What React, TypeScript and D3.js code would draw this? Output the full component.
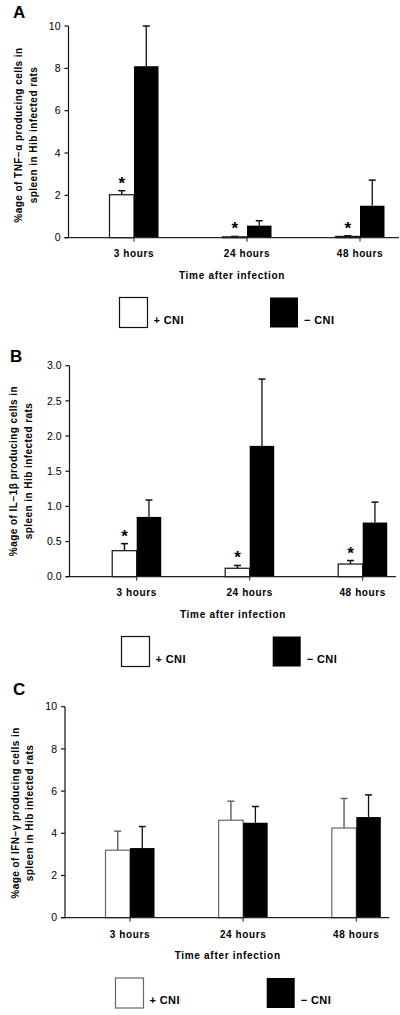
import React from "react";
import * as d3 from "d3";

const categories = ["3 hours", "24 hours", "48 hours"];

const tnfPlus = [2.03, 0.04, 0.06];
const tnfPlusErr = [2.22, 0.06, 0.09];
const tnfMinus = [8.1, 0.57, 1.51];
const tnfMinusErr = [10.0, 0.8, 2.72];

const il1Plus = [0.37, 0.12, 0.18];
const il1PlusErr = [0.47, 0.16, 0.23];
const il1Minus = [0.85, 1.86, 0.77];
const il1MinusErr = [1.09, 2.81, 1.06];

const ifnPlus = [3.2, 4.62, 4.25];
const ifnPlusErr = [4.1, 5.52, 5.65];
const ifnMinus = [3.3, 4.5, 4.77];
const ifnMinusErr = [4.32, 5.27, 5.82];

const sigA = [true, true, true];
const sigB = [true, true, true];
const sigC = [false, false, false];

const xTitle = "Time after infection";
const legendPlus = "+ CNI";
const legendMinus = "− CNI";

const FONT = "'Liberation Sans', Arial, Helvetica, sans-serif";

type PanelCfg = {
  letter: string;
  letterX: number;
  letterY: number;
  axisX: number;
  xEnd: number;
  yTop: number;
  yBottom: number;
  c0: number;
  c2: number;
  yMax: number;
  step: number;
  fmt: string;
  tickLabelY: number;
  titleX: number;
  titleY: number;
  ylab1: string;
  ylab2: string;
  ylabX1: number;
  ylabX2: number;
  ylabCY: number;
  legendY: number;
  legendX1: number;
  legendX2: number;
  plus: number[];
  plusErr: number[];
  minus: number[];
  minusErr: number[];
  sig: boolean[];
  plusStroke: string;
};

const BW = 24.5;

function Panel({ p }: { p: PanelCfg }) {
  const x = d3.scalePoint<string>().domain(categories).range([p.c0, p.c2]);
  const y = d3.scaleLinear().domain([0, p.yMax]).range([p.yBottom, p.yTop]);
  const ticks = d3.range(0, p.yMax + p.step / 2, p.step);
  const fmt = d3.format(p.fmt);
  const capW = 3.5;
  return (
    <g>
      <text x={p.letterX} y={p.letterY} fontFamily={FONT} fontWeight="bold" fontSize={17}>
        {p.letter}
      </text>
      {categories.map((c, i) => {
        const cx = x(c) as number;
        const wx = cx - BW;
        const wxc = cx - BW / 2;
        const bxc = cx + BW / 2;
        return (
          <g key={c}>
            <line x1={wxc} x2={wxc} y1={y(p.plus[i])} y2={y(p.plusErr[i])} stroke={p.plusStroke} strokeWidth={1.5} />
            <line x1={wxc - capW} x2={wxc + capW} y1={y(p.plusErr[i])} y2={y(p.plusErr[i])} stroke={p.plusStroke} strokeWidth={1.5} />
            <line x1={bxc} x2={bxc} y1={y(p.minus[i])} y2={y(p.minusErr[i])} stroke="#111" strokeWidth={1.3} />
            <line x1={bxc - capW} x2={bxc + capW} y1={y(p.minusErr[i])} y2={y(p.minusErr[i])} stroke="#111" strokeWidth={1.5} />
            <rect x={wx} y={y(p.plus[i])} width={BW} height={y(0) - y(p.plus[i])} fill="#fff" stroke={p.plusStroke} strokeWidth={1.2} />
            <rect x={cx} y={y(p.minus[i])} width={BW} height={y(0) - y(p.minus[i])} fill="#000" />
            {p.sig[i] && (
              <text x={wxc} y={y(p.plusErr[i]) - 2} textAnchor="middle" fontFamily={FONT} fontWeight="bold" fontSize={17}>
                *
              </text>
            )}
            <line x1={cx} x2={cx} y1={p.yBottom} y2={p.yBottom + 4} stroke="#222" strokeWidth={1} />
            <text
              x={cx}
              y={p.tickLabelY}
              dy="0.35em"
              textAnchor="middle"
              fontFamily={FONT}
              fontWeight="bold"
              fontSize={10}
              letterSpacing={0.6}
            >
              {c}
            </text>
          </g>
        );
      })}
      <line x1={p.axisX} x2={p.axisX} y1={p.yTop} y2={p.yBottom} stroke="#111" strokeWidth={1.2} />
      <line x1={p.axisX - 4} x2={p.xEnd} y1={p.yBottom} y2={p.yBottom} stroke="#222" strokeWidth={1.2} />
      {ticks.map((t) => (
        <g key={t}>
          <line x1={p.axisX - 4} x2={p.axisX} y1={y(t)} y2={y(t)} stroke="#111" strokeWidth={1.2} />
          <text x={p.axisX - 8} y={y(t)} dy="0.35em" textAnchor="end" fontFamily={FONT} fontSize={10.5}>
            {fmt(t)}
          </text>
        </g>
      ))}
      <text x={p.titleX} y={p.titleY} dy="0.35em" textAnchor="middle" fontFamily={FONT} fontWeight="bold" fontSize={10} letterSpacing={0.7}>
        {xTitle}
      </text>
      <text
        transform={`translate(${p.ylabX1},${p.ylabCY}) rotate(-90)`}
        dy="0.35em"
        textAnchor="middle"
        fontFamily={FONT}
        fontWeight="bold"
        fontSize={10}
        letterSpacing={0.45}
      >
        {p.ylab1}
      </text>
      <text
        transform={`translate(${p.ylabX2},${p.ylabCY}) rotate(-90)`}
        dy="0.35em"
        textAnchor="middle"
        fontFamily={FONT}
        fontWeight="bold"
        fontSize={10}
        letterSpacing={0.45}
      >
        {p.ylab2}
      </text>
      <rect x={p.legendX1} y={p.legendY} width={28} height={30} fill="#fff" stroke={p.plusStroke} strokeWidth={1.2} />
      <text x={p.legendX1 + 34} y={p.legendY + 26} fontFamily={FONT} fontWeight="bold" fontSize={11} letterSpacing={0.4}>
        {legendPlus}
      </text>
      <rect x={p.legendX2} y={p.legendY} width={28} height={30} fill="#000" />
      <text x={p.legendX2 + 34} y={p.legendY + 26} fontFamily={FONT} fontWeight="bold" fontSize={11} letterSpacing={0.4}>
        {legendMinus}
      </text>
    </g>
  );
}

const panels: PanelCfg[] = [
  {
    letter: "A", letterX: 13, letterY: 18, axisX: 68.5, xEnd: 399, yTop: 26, yBottom: 237.7,
    c0: 134, c2: 360, yMax: 10, step: 2, fmt: "d", tickLabelY: 253, titleX: 232, titleY: 275,
    ylab1: "%age of TNF−α producing cells in", ylab2: "spleen in Hib infected rats",
    ylabX1: 18, ylabX2: 33, ylabCY: 135, legendY: 297.5, legendX1: 119.5, legendX2: 270,
    plus: tnfPlus, plusErr: tnfPlusErr, minus: tnfMinus, minusErr: tnfMinusErr, sig: sigA, plusStroke: "#111",
  },
  {
    letter: "B", letterX: 10, letterY: 362, axisX: 69.5, xEnd: 396, yTop: 365.7, yBottom: 576.7,
    c0: 136.7, c2: 362.7, yMax: 3, step: 0.5, fmt: ".1f", tickLabelY: 592.7, titleX: 233, titleY: 614.3,
    ylab1: "%age of IL−1β producing cells in", ylab2: "spleen in Hib infected rats",
    ylabX1: 13, ylabX2: 28, ylabCY: 471, legendY: 636.5, legendX1: 121.5, legendX2: 272.7,
    plus: il1Plus, plusErr: il1PlusErr, minus: il1Minus, minusErr: il1MinusErr, sig: sigB, plusStroke: "#111",
  },
  {
    letter: "C", letterX: 13, letterY: 695, axisX: 65, xEnd: 389.3, yTop: 706.7, yBottom: 917.7,
    c0: 130, c2: 356.3, yMax: 10, step: 2, fmt: "d", tickLabelY: 934, titleX: 227.7, titleY: 955,
    ylab1: "%age of IFN−γ producing cells in", ylab2: "spleen in Hib infected rats",
    ylabX1: 15, ylabX2: 29, ylabCY: 813, legendY: 978, legendX1: 115.5, legendX2: 266.7,
    plus: ifnPlus, plusErr: ifnPlusErr, minus: ifnMinus, minusErr: ifnMinusErr, sig: sigC, plusStroke: "#666",
  },
];

export default function App() {
  return (
    <svg
      width={400}
      height={1015}
      viewBox="0 0 400 1015"
      style={{ position: "absolute", left: 0, top: 0, background: "#fff" }}
    >
      <rect x={0} y={0} width={400} height={1015} fill="#fff" />
      {panels.map((p) => (
        <Panel key={p.letter} p={p} />
      ))}
    </svg>
  );
}
